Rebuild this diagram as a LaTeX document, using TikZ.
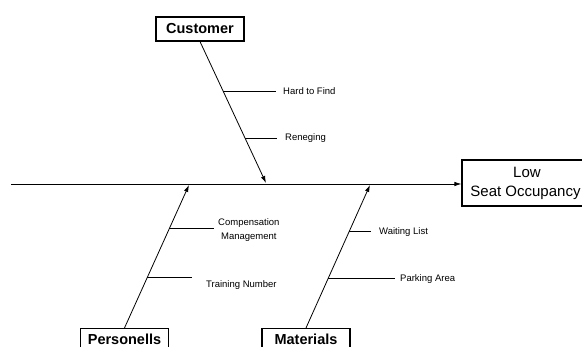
\documentclass[tikz,border=0pt]{standalone}
\usepackage{fontspec}
\setmainfont{Liberation Sans}
\usetikzlibrary{arrows.meta,positioning,calc}

\begin{document}
\begin{tikzpicture}[x=1pt,y=-1pt,>={Latex[length=7pt,width=4.5pt]},
  causebox/.style={draw,line width=1.1pt,minimum width=88pt,minimum height=24pt,inner sep=0pt,font=\fontsize{14.5}{16}\selectfont\bfseries},
  twigtext/.style={anchor=west,inner sep=0pt,align=center,font=\fontsize{9.5}{14}\selectfont},
  bone/.style={line width=.8pt}]
\clip (0,0) rectangle (582,347);
% head and spine
\node[draw,line width=1.1pt,minimum width=130pt,minimum height=46pt,inner sep=0pt,align=center,font=\fontsize{15}{19}\selectfont] (effect) at (527,183) {Low\\\hspace*{-3pt}Seat Occupancy};
\coordinate (tail) at (11,184);
\draw[bone,->] (tail) -- (tail -| effect.west);
% cause boxes
\node[causebox] (customer) at (200,29) {Customer};
\node[causebox,minimum height=22pt] (personells) at (124.5,339.5) {Personells};
\node[causebox,minimum height=22pt] (materials) at (306,339.5) {Materials};
\coordinate (ctip) at (266,183);
\coordinate (ptip) at (189,185);
\coordinate (mtip) at (370,185);
\draw[bone,->] (customer.south) -- (ctip);
\draw[bone,->] (personells.north) -- (ptip);
\draw[bone,->] (materials.north) -- (mtip);
% sub causes
\coordinate (hard) at ($(customer.south)!.352!(ctip)$);
\coordinate (reneg) at ($(customer.south)!.683!(ctip)$);
\coordinate (comp) at ($(personells.north)!.694!(ptip)$);
\coordinate (train) at ($(personells.north)!.354!(ptip)$);
\coordinate (wait) at ($(materials.north)!.674!(mtip)$);
\coordinate (park) at ($(materials.north)!.347!(mtip)$);
\node[twigtext] (hardtxt) at (283,91) {Hard to Find};
\node[twigtext] (renegtxt) at (285,138) {Reneging};
\node[twigtext] (comptxt) at (218,230) {Compensation\\Management};
\node[twigtext] (traintxt) at (206,285) {Training Number};
\node[twigtext] (waittxt) at (379,232) {Waiting List};
\node[twigtext] (parktxt) at (400,279) {Parking Area};
\draw[bone] (hard) -- ([xshift=-7pt]hard -| hardtxt.west);
\draw[bone] (reneg) -- ([xshift=-8pt]reneg -| renegtxt.west);
\draw[bone] (comp) -- ([xshift=-4pt]comp -| comptxt.west);
\draw[bone] (train) -- ([xshift=-14pt]train -| traintxt.west);
\draw[bone] (wait) -- ([xshift=-8pt]wait -| waittxt.west);
\draw[bone] (park) -- ([xshift=-5pt]park -| parktxt.west);
\end{tikzpicture}
\end{document}
